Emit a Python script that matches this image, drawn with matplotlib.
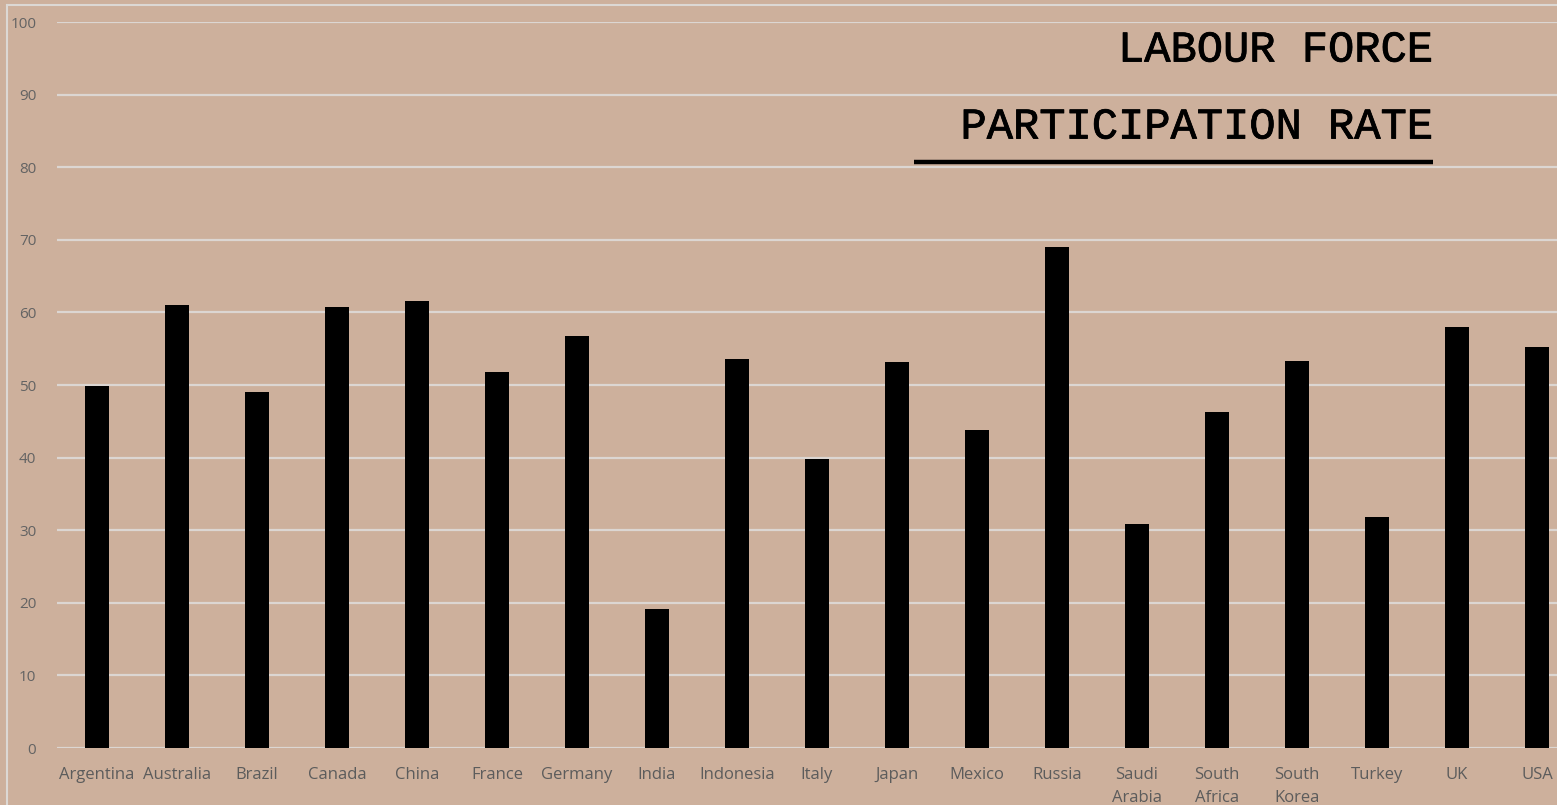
import matplotlib
matplotlib.use("Agg")
import matplotlib.pyplot as plt
from matplotlib.lines import Line2D
import matplotlib.patheffects as pe

countries = ["Argentina", "Australia", "Brazil", "Canada", "China", "France", "Germany",
             "India", "Indonesia", "Italy", "Japan", "Mexico", "Russia", "Saudi\nArabia",
             "South\nAfrica", "South\nKorea", "Turkey", "UK", "USA"]
rates = [49.9, 61.0, 49.0, 60.7, 61.6, 51.8, 56.7, 19.1, 53.6, 39.8, 53.2, 43.8, 69.0,
         30.9, 46.3, 53.3, 31.8, 58.0, 55.2]
yticks = list(range(0, 101, 10))

W, H = 1557, 805
bg = "#cdb09c"
fig = plt.figure(figsize=(W / 100, H / 100), dpi=100, facecolor=bg)
ax = fig.add_axes([57 / W, (H - 748) / H, 1520 / W, 726 / H], facecolor=bg)

x = list(range(len(countries)))
ax.bar(x, rates, width=0.31, color="black", zorder=3)
ax.set_xlim(-0.5, len(countries) - 0.5)
ax.set_ylim(0, 100)
ax.set_yticks(yticks)
ax.yaxis.grid(True, color="#dcd6d2", linewidth=1.6, zorder=1)
ax.set_axisbelow(True)
for s in ax.spines.values():
    s.set_visible(False)
ax.set_xticks(x)
ax.set_xticklabels(countries, fontsize=12, color="#5c5c5c", family="Open Sans",
                   linespacing=1.55, va="top")
ax.tick_params(axis="x", length=0, pad=14)
ax.tick_params(axis="y", length=0, pad=15, labelsize=11, labelcolor="#636363")
for lab in ax.get_yticklabels():
    lab.set_family("Open Sans")

# chart border lines
fig.add_artist(Line2D([7 / W, 7 / W], [0, (H - 5) / H], color="#dcd8d4", lw=1.5,
                      transform=fig.transFigure))
fig.add_artist(Line2D([7 / W, 1], [(H - 5) / H, (H - 5) / H], color="#dcd8d4", lw=1.5,
                      transform=fig.transFigure))

# title
stroke = [pe.withStroke(linewidth=0.6, foreground="black")]
fig.text(1433 / W, (H - 50) / H, "LABOUR FORCE", ha="right", va="center",
         family="Liberation Mono", fontsize=31.5, color="black", path_effects=stroke)
fig.text(1433 / W, (H - 127) / H, "PARTICIPATION RATE", ha="right", va="center",
         family="Liberation Mono", fontsize=31.5, color="black", path_effects=stroke)
fig.add_artist(Line2D([914 / W, 1433 / W], [(H - 162) / H, (H - 162) / H], color="black",
                      lw=3.2, transform=fig.transFigure, solid_capstyle="butt"))

fig.savefig("out.png", dpi=100, facecolor=bg)
